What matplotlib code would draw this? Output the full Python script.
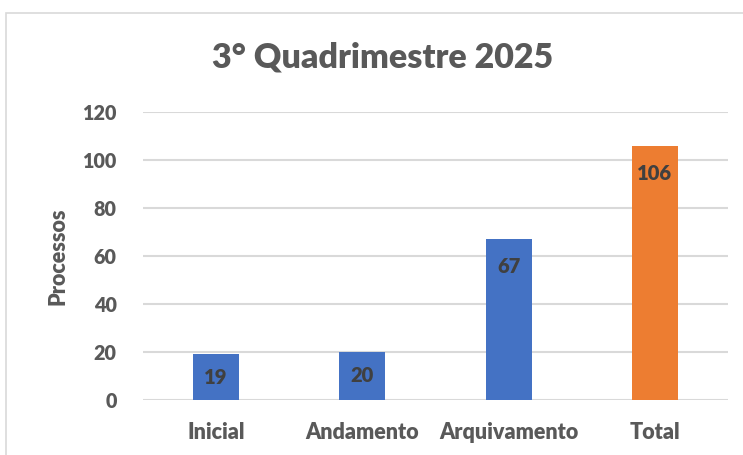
import matplotlib.pyplot as plt
from matplotlib.patches import Rectangle

# chart data
categorias = ["Inicial", "Andamento", "Arquivamento", "Total"]
processos = [19, 20, 67, 106]
cores = ["#4472C4", "#4472C4", "#4472C4", "#ED7D31"]
yticks = [0, 20, 40, 60, 80, 100, 120]

plt.rcParams['font.family'] = ['Lato', 'DejaVu Sans']

cinza = "#595959"
peso = "heavy"

fig = plt.figure(figsize=(7.43, 4.55), dpi=100)
ax = fig.add_axes([143/743, 1 - 400/455, 585/743, 288/455])

# outer chart border (cropped at right/bottom)
fig.patches.append(Rectangle((6/743, -0.1), 1.1, 1 - 13/455 + 0.1,
                             transform=fig.transFigure, fill=False,
                             edgecolor="#D9D9D9", linewidth=1.2))

x = range(len(categorias))
bars = ax.bar(x, processos, width=0.315, color=cores, zorder=3)

# labels inside the bar end
for b, v in zip(bars, processos):
    desl = min(11.5, v * 0.5)
    ax.text(b.get_x() + b.get_width()/2, v - desl, str(v), ha="center", va="center",
            fontsize=14.5, fontweight=peso, color="#404040", zorder=4)

ax.set_xlim(-0.5, 3.5)
ax.set_ylim(0, 120)
ax.set_yticks(yticks)
ax.set_xticks(list(x))
ax.set_xticklabels(categorias)
ax.tick_params(length=0, colors=cinza)
ax.tick_params(axis="y", pad=19, labelsize=14.2)
ax.tick_params(axis="x", pad=16, labelsize=15.5)
for lab in ax.get_xticklabels() + ax.get_yticklabels():
    lab.set_fontweight(peso)
ax.yaxis.grid(True, color="#D9D9D9", linewidth=1.5, zorder=0)
for s in ["top", "right", "left", "bottom"]:
    ax.spines[s].set_visible(False)

ax.set_ylabel("Processos", fontsize=15.5, fontweight=peso, color=cinza)
ax.yaxis.set_label_coords(-0.127, 0.5)
fig.text(383/743, 1 - 57/455, "3° Quadrimestre 2025", ha="center", va="center",
         fontsize=24.5, fontweight=peso, color=cinza)

fig.savefig("out.png", dpi=100)
